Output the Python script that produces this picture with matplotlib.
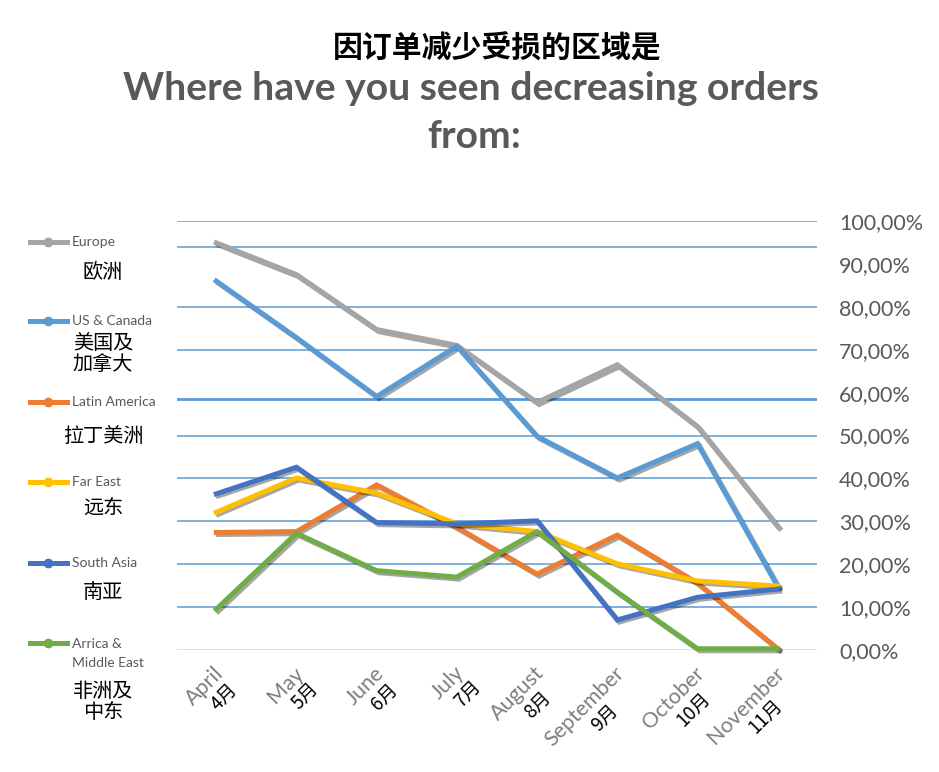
import matplotlib.pyplot as plt
import matplotlib.patheffects as pe
from matplotlib.lines import Line2D

months_en = ["April", "May", "June", "July", "August", "September", "October", "November"]
months_zh = ["4月", "5月", "6月", "7月", "8月", "9月", "10月", "11月"]

europe = [94.9, 87.5, 74.7, 71.0, 57.7, 66.5, 52.1, 28.8]
us_canada = [86.0, 72.8, 59.1, 70.8, 49.8, 40.1, 48.1, 14.8]
latin_america = [27.4, 27.6, 38.5, 28.6, 17.7, 26.8, 15.6, 0.3]
far_east = [32.1, 40.1, 36.6, 29.4, 27.6, 20.1, 16.1, 14.9]
south_asia = [36.4, 42.6, 29.7, 29.4, 30.1, 7.0, 12.3, 14.2]
africa_me = [9.5, 27.2, 18.5, 17.0, 27.6, 13.5, 0.3, 0.3]

series = [europe, us_canada, latin_america, far_east, south_asia, africa_me]
names_en = ["Europe", "US & Canada", "Latin America", "Far East", "South Asia", "Arrica &\nMiddle East"]
names_zh = ["欧洲", "美国及\n加拿大", "拉丁美洲", "远东", "南亚", "非洲及\n中东"]
colors = ["#A5A5A5", "#5B9BD5", "#ED7D31", "#FFC000", "#4472C4", "#70AD47"]

# horizontal rules as they appear in the picture
grid_levels = [10, 20, 30, 40, 50, 70, 80, 93.9, 100]
thick_level = 58.6

CJK = ["Noto Sans CJK SC", "DejaVu Sans"]
W, H = 939, 772
fig = plt.figure(figsize=(W / 100, H / 100), dpi=100)
ax = fig.add_axes([177 / W, 1 - 650 / H, 640 / W, 429 / H])

for lv in grid_levels:
    ax.axhline(lv, color="#5B9BD5", lw=1.1, zorder=1)
ax.axhline(thick_level, color="#5B9BD5", lw=2.0, zorder=1)
ax.axhline(0, color="#D9D9D9", lw=1.2, zorder=1)

x = list(range(len(months_en)))
shadow = [pe.SimpleLineShadow(offset=(1.5, -1.5), shadow_color="black", alpha=0.35), pe.Normal()]
for vals, c in zip(series, colors):
    ax.plot(x, vals, color=c, lw=3.6, solid_joinstyle="miter", zorder=3,
            clip_on=False, path_effects=shadow)

ax.set_xlim(-0.49, 7.49)
ax.set_ylim(0, 100)
for s in ax.spines.values():
    s.set_visible(False)
ax.set_xticks([])
ax.yaxis.tick_right()
ax.set_yticks(range(0, 101, 10))
ax.set_yticklabels([f"{v:.2f}%".replace(".", ",") for v in range(0, 101, 10)],
                   fontsize=15.5, color="#595959", family="Lato")
ax.tick_params(axis="y", length=0, pad=16)

# two-line rotated month labels: english line ends at the tick, chinese line centred under it
renderer = fig.canvas.get_renderer()
c45 = 0.7071
ax0, ay0 = 4, -20
for i in x:
    ax.annotate(months_en[i], xy=(i, 0), xycoords=("data", "axes fraction"),
                xytext=(ax0, ay0), textcoords="offset pixels", rotation=45,
                rotation_mode="anchor", ha="right", va="center",
                fontsize=15.5, color="#7F7F7F", family="Lato")
    tmp = fig.text(0, 0, months_en[i], fontsize=15.5, family="Lato")
    w = tmp.get_window_extent(renderer).width
    tmp.remove()
    along = -w / 2 + 6
    perp = 22
    zx = ax0 + along * c45 + perp * c45
    zy = ay0 + along * c45 - perp * c45
    ax.annotate(months_zh[i], xy=(i, 0), xycoords=("data", "axes fraction"),
                xytext=(zx, zy), textcoords="offset pixels", rotation=45,
                rotation_mode="anchor", ha="center", va="center",
                fontsize=13.5, color="black", family=CJK)

# legend on the left
leg_y = [242, 321, 402, 482, 563, 643]
zh_y = [272, 354, 436, 508, 592, 702]
for name, zh, c, py, zy in zip(names_en, names_zh, colors, leg_y, zh_y):
    fy = 1 - py / H
    fig.add_artist(Line2D([30 / W, 67 / W], [fy, fy], color=c, lw=3.6))
    fig.add_artist(Line2D([48 / W], [fy], color=c, marker="o", markersize=6))
    if "\n" in name:
        fig.text(72 / W, 1 - (py - 5) / H, name, fontsize=10, color="#595959", family="Lato",
                 va="top", ha="left", linespacing=1.7)
    else:
        fig.text(72 / W, fy, name, fontsize=10, color="#595959", family="Lato",
                 va="center", ha="left")
    fig.text(103 / W, 1 - zy / H, zh, fontsize=14.5, color="black", ha="center", va="center",
             family=CJK, linespacing=1.05)

fig.text(497 / W, 1 - 48 / H, "因订单减少受损的区域是", fontsize=21.5, fontweight="bold",
         color="black", ha="center", va="center", family=CJK)
fig.text(471 / W, 1 - 88 / H, "Where have you seen decreasing orders", fontsize=28.2,
         fontweight="bold", color="#595959", ha="center", va="center", family="Lato")
fig.text(474 / W, 1 - 137 / H, "from:", fontsize=28.2, fontweight="bold",
         color="#595959", ha="center", va="center", family="Lato")

fig.savefig("out.png", dpi=100)
